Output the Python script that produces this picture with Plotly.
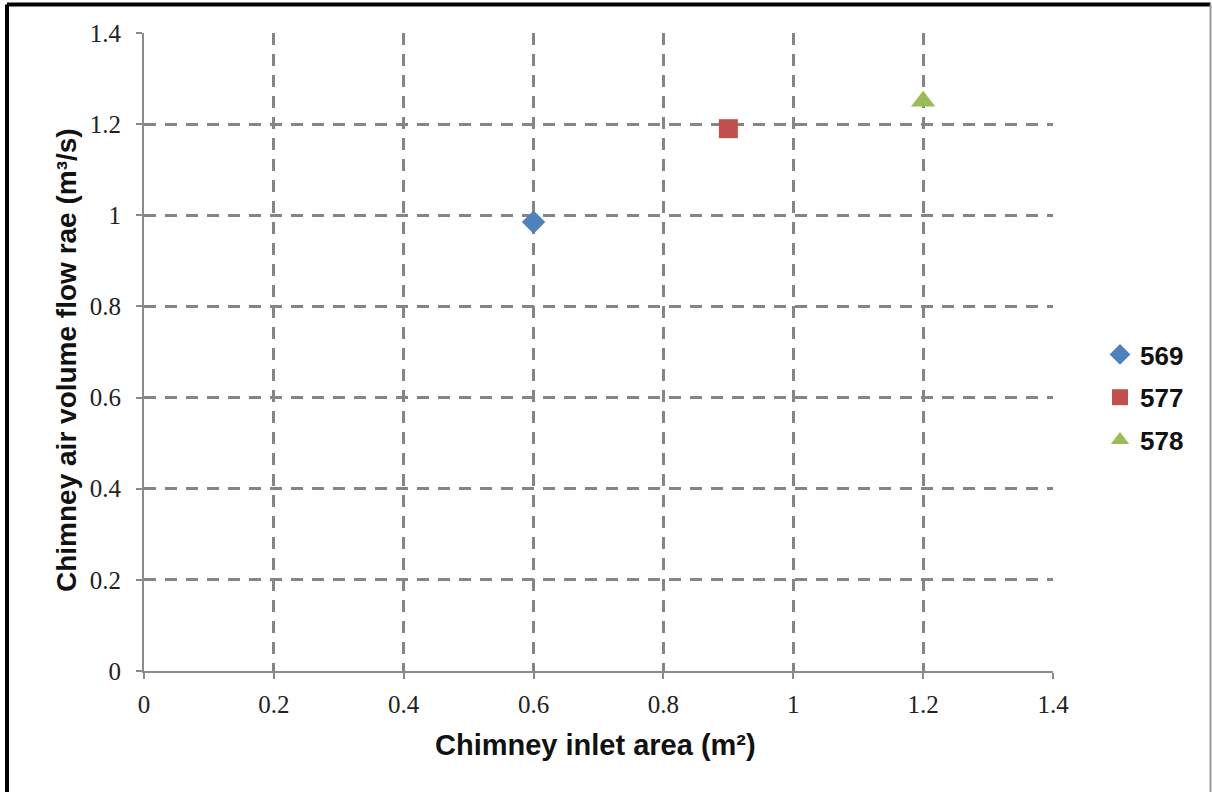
import plotly.graph_objects as go

names = ["569", "577", "578"]
inlet_area = [0.6, 0.9, 1.2]
flow_rate = [0.985, 1.19, 1.25]
colors = ["#4F81BD", "#C0504D", "#9BBB59"]
symbols = ["diamond", "square", "triangle-up"]
sizes = [18, 19, 21]
tick_vals = [0, 0.2, 0.4, 0.6, 0.8, 1.0, 1.2, 1.4]
tick_text = ["0", "0.2", "0.4", "0.6", "0.8", "1", "1.2", "1.4"]
x_title = "Chimney inlet area (m²)"
y_title = "Chimney air volume flow rae (m³/s)"

fig = go.Figure()
for n, x, y, c, s, sz in zip(names, inlet_area, flow_rate, colors, symbols, sizes):
    fig.add_trace(go.Scatter(x=[x], y=[y], mode="markers", name=n, legendgroup=n,
                             marker=dict(color=c, symbol=s, size=sz,
                                         line=dict(width=0))))

grid_style = dict(showgrid=True, gridcolor="#858585", gridwidth=3,
                  griddash="12px,9px", zeroline=False,
                  showline=True, linecolor="#8a8a8a", linewidth=2,
                  ticks="outside", ticklen=6, tickcolor="#8a8a8a", tickwidth=2,
                  tickfont=dict(family="Liberation Serif", size=25, color="#222"),
                  tickvals=tick_vals, ticktext=tick_text)

fig.update_xaxes(range=[0, 1.4], ticklabelstandoff=4, **grid_style)
fig.update_yaxes(range=[0, 1.4], ticklabelstandoff=10, **grid_style)

W, H = 1212, 792
ml, mr, mt, mb = 144, 159, 33, 121
pw, ph = W - ml - mr, H - mt - mb

def px(xp):
    return (xp - ml) / pw

def py(yp):
    return (H - mb - yp) / ph

fig.update_layout(
    width=W, height=H,
    margin=dict(l=ml, r=mr, t=mt, b=mb),
    plot_bgcolor="white", paper_bgcolor="white",
    showlegend=True,
    legend=dict(x=px(1100), y=py(331), xanchor="left", yanchor="top",
                traceorder="grouped", tracegroupgap=6,
                font=dict(family="Liberation Sans", size=26, color="#111", weight="bold"),
                itemwidth=30, bgcolor="rgba(0,0,0,0)"),
)

fig.add_annotation(text=x_title, xref="paper", yref="paper", x=px(595), y=py(745),
                   xanchor="center", yanchor="middle", showarrow=False,
                   font=dict(family="Liberation Sans", size=29, color="#111", weight="bold"))
fig.add_annotation(text=y_title, xref="paper", yref="paper", x=px(66), y=py(360),
                   xanchor="center", yanchor="middle", showarrow=False, textangle=-90,
                   font=dict(family="Liberation Sans", size=28, color="#111", weight="bold"))

# frame around chart image
L, R = px(7), px(1210.5)
T, B = py(4.5), py(800)
fig.add_shape(type="line", xref="paper", yref="paper", x0=L, x1=R, y0=T, y1=T,
              line=dict(color="black", width=4))
fig.add_shape(type="line", xref="paper", yref="paper", x0=L, x1=L, y0=B, y1=T,
              line=dict(color="black", width=4))
fig.add_shape(type="line", xref="paper", yref="paper", x0=R, x1=R, y0=B, y1=T,
              line=dict(color="#999999", width=2))

fig.write_html("out.html")
